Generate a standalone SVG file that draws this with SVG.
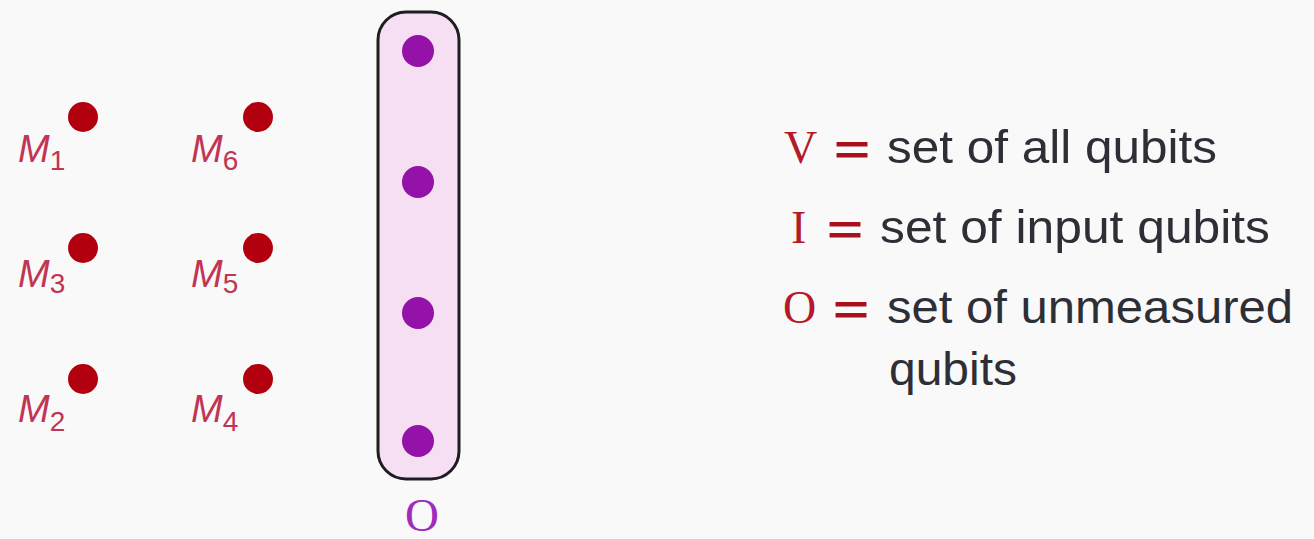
<svg xmlns="http://www.w3.org/2000/svg" width="1314" height="539" viewBox="0 0 1314 539">
<style>
.rdot{fill:#b3000f}
.pdot{fill:#9412a8}
.ml{font-family:"Liberation Sans",Arial,sans-serif;font-style:italic;font-size:38px;fill:#c23454}
.ml tspan{font-size:28px;font-style:normal}
.sym{font-family:"Liberation Serif","Times New Roman",serif;font-size:46px;fill:#b51a2a}
.eq{font-family:"Liberation Sans",Arial,sans-serif;font-size:40px;font-weight:bold;fill:#a8101e}
.txt{font-family:"Liberation Sans",Arial,sans-serif;font-size:47px;fill:#2e2e36}
</style>
<rect width="1314" height="539" fill="#f8f9f8"/>
<g id="M1"><circle class="rdot" cx="83" cy="117" r="15"/><text class="ml" x="18" y="162">M<tspan dy="8">1</tspan></text></g>
<g id="M6"><circle class="rdot" cx="258" cy="117" r="15"/><text class="ml" x="191" y="162">M<tspan dy="8">6</tspan></text></g>
<g id="M3"><circle class="rdot" cx="83" cy="248" r="15"/><text class="ml" x="18" y="287">M<tspan dy="6">3</tspan></text></g>
<g id="M5"><circle class="rdot" cx="258" cy="248" r="15"/><text class="ml" x="191" y="287">M<tspan dy="6">5</tspan></text></g>
<g id="M2"><circle class="rdot" cx="83" cy="379" r="15"/><text class="ml" x="18" y="422">M<tspan dy="9">2</tspan></text></g>
<g id="M4"><circle class="rdot" cx="258" cy="379" r="15"/><text class="ml" x="191" y="422">M<tspan dy="9">4</tspan></text></g>
<g id="O">
<rect x="378" y="12" width="81" height="467" rx="28" ry="28" fill="#f7dff3" stroke="#1e1e22" stroke-width="3"/>
<circle class="pdot" cx="418" cy="51" r="16"/>
<circle class="pdot" cx="418" cy="182" r="16"/>
<circle class="pdot" cx="418" cy="313" r="16"/>
<circle class="pdot" cx="418" cy="441" r="16"/>
<text x="422" y="531" text-anchor="middle" font-family="Liberation Serif,'Times New Roman',serif" font-size="47" fill="#a02cbc">O</text>
</g>
<g id="legend">
<text class="sym" x="784" y="163">V</text>
<text class="eq" x="834" y="164" textLength="36" lengthAdjust="spacingAndGlyphs">=</text>
<text class="txt" x="887" y="163" textLength="330" lengthAdjust="spacingAndGlyphs">set of all qubits</text>
<text class="sym" x="791" y="243">I</text>
<text class="eq" x="827" y="244" textLength="36" lengthAdjust="spacingAndGlyphs">=</text>
<text class="txt" x="880" y="243" textLength="390" lengthAdjust="spacingAndGlyphs">set of input qubits</text>
<text class="sym" x="783" y="323">O</text>
<text class="eq" x="833" y="324" textLength="36" lengthAdjust="spacingAndGlyphs">=</text>
<text class="txt" x="887" y="323" textLength="406" lengthAdjust="spacingAndGlyphs">set of unmeasured</text>
<text class="txt" x="889" y="385" textLength="128" lengthAdjust="spacingAndGlyphs">qubits</text>
</g>
</svg>
